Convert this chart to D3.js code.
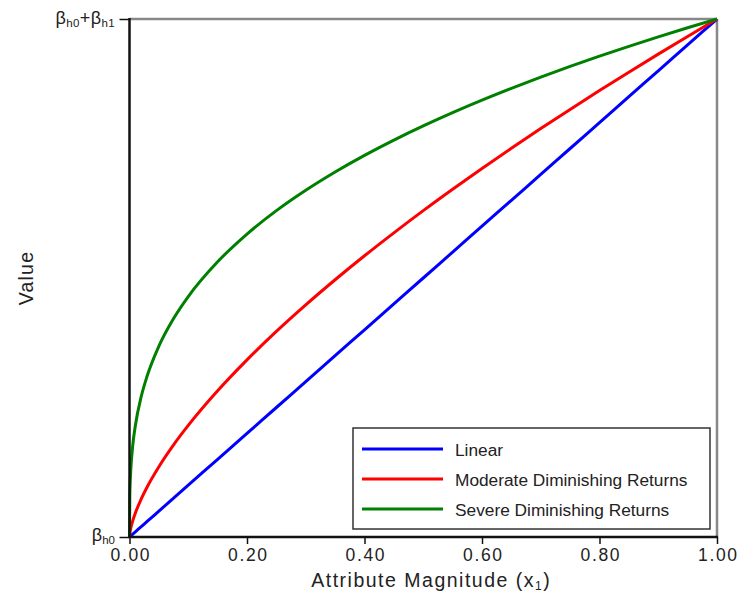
<!DOCTYPE html>
<html><head><meta charset="utf-8">
<script src="https://cdn.jsdelivr.net/npm/d3@7"></script>
<style>body{margin:0;background:#fff}svg{display:block}text{font-family:"Liberation Sans",Arial,sans-serif;fill:#222}</style>
</head><body><svg id="c" width="741" height="594"></svg>
<script>
const xValues = [0,0.0005,0.001,0.002,0.005,0.01,0.02,0.03,0.05,0.075,0.1,0.15,0.2,0.25,0.3,0.35,0.4,0.45,0.5,0.55,0.6,0.65,0.7,0.75,0.8,0.85,0.9,0.95,1];
const linearValues = [0,0.0005,0.001,0.002,0.005,0.01,0.02,0.03,0.05,0.075,0.1,0.15,0.2,0.25,0.3,0.35,0.4,0.45,0.5,0.55,0.6,0.65,0.7,0.75,0.8,0.85,0.9,0.95,1];
const moderateValues = [0,0.0063,0.01,0.0159,0.0292,0.0464,0.0737,0.0965,0.1357,0.1779,0.2154,0.2823,0.342,0.3969,0.4481,0.4966,0.5429,0.5872,0.63,0.6713,0.7114,0.7503,0.7884,0.8255,0.8618,0.8973,0.9322,0.9663,1];
const severeValues = [0,0.0794,0.1,0.126,0.171,0.2154,0.2714,0.3107,0.3684,0.4217,0.4642,0.5313,0.5848,0.63,0.6694,0.7047,0.7368,0.7663,0.7937,0.8193,0.8434,0.8662,0.8879,0.9086,0.9283,0.9473,0.9655,0.983,1];
const seriesNames = ["Linear","Moderate Diminishing Returns","Severe Diminishing Returns"];
const seriesColors = ["#0000ff","#ff0000","#008000"];
const xTicks = [0,0.2,0.4,0.6,0.8,1.0];

const svg = d3.select("#c");
const L=129.5,R=717,T=19,B=537;
const x = d3.scaleLinear().domain([0,1]).range([L,R]);
const y = d3.scaleLinear().domain([0,1]).range([B,T]);

// frame top/right
svg.append("line").attr("x1",L).attr("x2",R).attr("y1",T).attr("y2",T).attr("stroke","#888").attr("stroke-width",2.5);
svg.append("line").attr("x1",R).attr("x2",R).attr("y1",T).attr("y2",B).attr("stroke","#888").attr("stroke-width",2.5);

const allSeries=[linearValues,moderateValues,severeValues];
const line = d3.line().x((d,i)=>x(xValues[i])).y(d=>y(d)).curve(d3.curveMonotoneX);
allSeries.forEach((s,k)=>{
  svg.append("path").attr("d",line(s)).attr("fill","none").attr("stroke",seriesColors[k]).attr("stroke-width",3);
});

// axes
const xa = svg.append("g").attr("transform",`translate(0,${B})`).call(d3.axisBottom(x).tickValues(xTicks).tickFormat(d3.format(".2f")).tickSize(7).tickPadding(5));
xa.select(".domain").attr("stroke","#111").attr("stroke-width",2.5).attr("d",`M${L-1},0H${R+1}`);
xa.selectAll(".tick line").attr("stroke","#111").attr("stroke-width",1.5);
xa.selectAll(".tick text").attr("font-size",17.5).attr("fill","#222").attr("font-family","Liberation Sans, Arial, sans-serif")
  .attr("textLength",39).attr("lengthAdjust","spacing");

const ya = svg.append("g").attr("transform",`translate(${L},0)`).call(d3.axisLeft(y).tickValues([0,1]).tickFormat("").tickSize(10));
ya.select(".domain").attr("stroke","#111").attr("stroke-width",2.5).attr("d",`M0,${B+1}V${T-1}`);
ya.selectAll(".tick line").attr("stroke","#111").attr("stroke-width",1.5);

// y tick labels
const yl0 = svg.append("text").attr("x",115).attr("y",y(0)+4).attr("text-anchor","end").attr("font-size",18);
yl0.append("tspan").text("β");
yl0.append("tspan").text("h0").attr("font-size",11.5).attr("dy",3);
const yl1 = svg.append("text").attr("x",115).attr("y",y(1)+5).attr("text-anchor","end").attr("font-size",18).attr("letter-spacing",0.4);
yl1.append("tspan").text("β");
yl1.append("tspan").text("h0").attr("font-size",11.5).attr("dy",3);
yl1.append("tspan").text("+β").attr("dy",-3);
yl1.append("tspan").text("h1").attr("font-size",11.5).attr("dy",3);

// axis titles
const xt = svg.append("text").attr("x",(L+R)/2+8).attr("y",587).attr("text-anchor","middle").attr("font-size",19.5).attr("letter-spacing",1.5);
xt.append("tspan").text("Attribute Magnitude (x");
xt.append("tspan").text("1").attr("font-size",12).attr("dy",3);
xt.append("tspan").text(")").attr("dy",-3);
svg.append("text").attr("transform",`translate(33,${(T+B)/2}) rotate(-90)`).attr("text-anchor","middle").attr("font-size",19.5).attr("letter-spacing",1.2).text("Value");

// legend
const lg = svg.append("g");
lg.append("rect").attr("x",353).attr("y",428).attr("width",357).attr("height",101).attr("fill","#fff").attr("stroke","#333").attr("stroke-width",1.5);
seriesNames.forEach((n,k)=>{
  const yy=449+k*30;
  lg.append("line").attr("x1",362).attr("x2",443).attr("y1",yy).attr("y2",yy).attr("stroke",seriesColors[k]).attr("stroke-width",3);
  lg.append("text").attr("x",455).attr("y",yy+6.5).attr("font-size",17.3).text(n);
});
</script></body></html>
